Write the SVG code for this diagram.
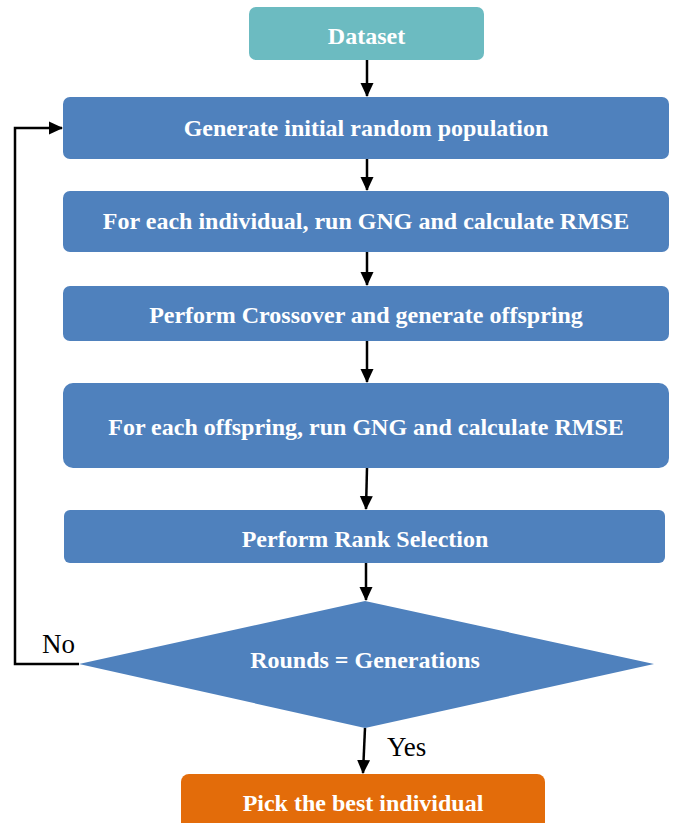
<svg xmlns="http://www.w3.org/2000/svg" width="673" height="823" viewBox="0 0 673 823">
<style>
.box{fill:#4f81bd;}
.lbl{font-family:"Liberation Serif","Times New Roman",serif;font-weight:bold;font-size:24px;fill:#ffffff;text-anchor:middle;dominant-baseline:central;}
.plain{font-family:"Liberation Serif","Times New Roman",serif;font-size:27px;fill:#000000;}
.conn{stroke:#000;stroke-width:2.5;fill:none;}
</style>
<defs>
<marker id="ah" markerWidth="14" markerHeight="14" refX="13" refY="7" orient="auto" markerUnits="userSpaceOnUse" viewBox="0 0 14 14">
<path d="M0,0.5 L14,7 L0,13.5 z" fill="#000"/>
</marker>
</defs>
<rect width="673" height="823" fill="#ffffff"/>
<g id="connectors">
<line class="conn" x1="367" y1="60" x2="367" y2="96" marker-end="url(#ah)"/>
<line class="conn" x1="367" y1="159" x2="367" y2="190" marker-end="url(#ah)"/>
<line class="conn" x1="367" y1="252" x2="367" y2="285" marker-end="url(#ah)"/>
<line class="conn" x1="367" y1="341" x2="367" y2="382" marker-end="url(#ah)"/>
<line class="conn" x1="367" y1="468" x2="366" y2="509" marker-end="url(#ah)"/>
<line class="conn" x1="366" y1="563" x2="366" y2="600" marker-end="url(#ah)"/>
<line class="conn" x1="365" y1="728" x2="363" y2="773" marker-end="url(#ah)"/>
<polyline class="conn" points="79,664 15,664 15,128 62,128" marker-end="url(#ah)"/>
<text class="plain" x="42" y="653">No</text>
<text class="plain" x="387" y="756">Yes</text>
</g>
<g id="dataset">
<rect x="249" y="7" width="235" height="53" rx="7" fill="#6cbbc1"/>
<text class="lbl" x="366.5" y="36">Dataset</text>
</g>
<g id="generate">
<rect class="box" x="63" y="97" width="606" height="62" rx="7"/>
<text class="lbl" x="366" y="128">Generate initial random population</text>
</g>
<g id="eval-individual">
<rect class="box" x="63" y="191" width="606" height="61" rx="7"/>
<text class="lbl" x="366" y="221">For each individual, run GNG and calculate RMSE</text>
</g>
<g id="crossover">
<rect class="box" x="63" y="286" width="606" height="55" rx="7"/>
<text class="lbl" x="366" y="315">Perform Crossover and generate offspring</text>
</g>
<g id="eval-offspring">
<rect class="box" x="63" y="383" width="606" height="85" rx="10"/>
<text class="lbl" x="366" y="427">For each offspring, run GNG and calculate RMSE</text>
</g>
<g id="rank">
<rect class="box" x="64" y="510" width="601" height="53" rx="6"/>
<text class="lbl" x="365" y="539">Perform Rank Selection</text>
</g>
<g id="decision">
<polygon class="box" points="365,601 654,664 365,728 79,664"/>
<text class="lbl" x="365" y="660">Rounds = Generations</text>
</g>
<g id="pick">
<rect x="181" y="774" width="364" height="60" rx="8" fill="#e36c0a"/>
<text class="lbl" x="363" y="803">Pick the best individual</text>
</g>
</svg>
